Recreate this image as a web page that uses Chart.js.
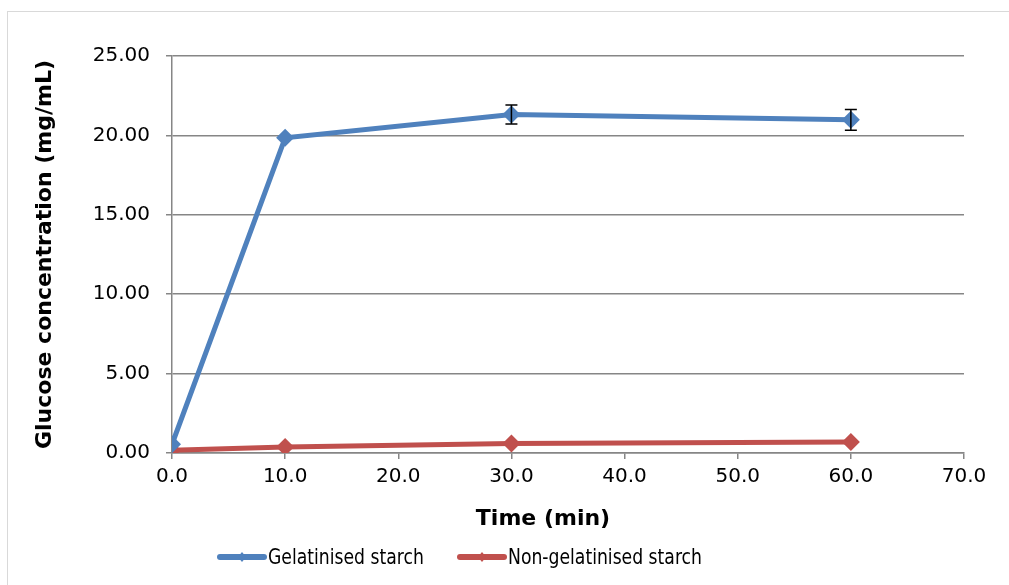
<!DOCTYPE html>
<html>
<head>
<meta charset="utf-8">
<script src="https://cdn.jsdelivr.net/npm/chart.js@4/dist/chart.umd.min.js"></script>
<style>
  html, body { margin: 0; padding: 0; background: #ffffff; }
  #wrap { position: relative; width: 1009px; height: 585px; }
</style>
</head>
<body>
<div id="wrap"><canvas id="c" width="1009" height="585"></canvas></div>
<script>
// Hydrolysis time points (min)
const timePoints = [0, 10, 30, 60];
// Glucose concentration (mg/mL)
const gelatinised = [0.55, 19.85, 21.32, 20.98];
const gelatinisedErr = [0, 0, 0.6, 0.65];
const nonGelatinised = [0.18, 0.38, 0.6, 0.7];
const seriesNames = ['Gelatinised starch', 'Non-gelatinised starch'];
const xTitle = 'Time (min)';
const yTitle = 'Glucose concentration (mg/mL)';

const BLUE = '#4F81BD';
const RED = '#C0504D';
const GRID = '#868686';
const FONT = 'DejaVu Sans, Verdana, sans-serif';

const toPoints = (ys) => ys.map((y, i) => ({ x: timePoints[i], y }));

// Error bars for datasets carrying an "errors" array
const errorBars = {
  id: 'errorBars',
  afterDatasetsDraw(chart) {
    const { ctx, scales: { x, y } } = chart;
    chart.data.datasets.forEach((ds) => {
      if (!ds.errors) return;
      ctx.save();
      ctx.strokeStyle = '#000000';
      ctx.lineWidth = 1.5;
      ds.data.forEach((p, i) => {
        const e = ds.errors[i];
        if (!e) return;
        const px = x.getPixelForValue(p.x);
        const top = y.getPixelForValue(p.y + e);
        const bot = y.getPixelForValue(p.y - e);
        ctx.beginPath();
        ctx.moveTo(px, top); ctx.lineTo(px, bot);
        ctx.moveTo(px - 6, top); ctx.lineTo(px + 6, top);
        ctx.moveTo(px - 6, bot); ctx.lineTo(px + 6, bot);
        ctx.stroke();
      });
      ctx.restore();
    });
  }
};

// Outer frame, x-axis title and a line-with-marker legend below the axes
const frameAndLegend = {
  id: 'frameAndLegend',
  beforeDraw(chart) {
    const { ctx } = chart;
    ctx.save();
    ctx.strokeStyle = '#d9d9d9';
    ctx.lineWidth = 1;
    ctx.strokeRect(7.5, 11.5, 1010, 600);
    ctx.restore();
  },
  afterDraw(chart) {
    const { ctx } = chart;
    ctx.save();
    ctx.fillStyle = '#000000';
    ctx.font = 'bold 22px ' + FONT;
    ctx.textAlign = 'center';
    ctx.textBaseline = 'middle';
    ctx.fillText(xTitle, 543, 519);
    ctx.restore();

    const items = [
      { x0: 220, x1: 264, tx: 268 },
      { x0: 460, x1: 504, tx: 508 }
    ];
    const yMid = 557;
    ctx.save();
    chart.data.datasets.forEach((ds, i) => {
      const it = items[i];
      ctx.strokeStyle = ds.borderColor;
      ctx.fillStyle = ds.borderColor;
      ctx.lineWidth = 6;
      ctx.lineCap = 'round';
      ctx.beginPath();
      ctx.moveTo(it.x0, yMid); ctx.lineTo(it.x1, yMid);
      ctx.stroke();
      const cx = (it.x0 + it.x1) / 2;
      ctx.beginPath();
      ctx.moveTo(cx, yMid - 5); ctx.lineTo(cx + 4, yMid);
      ctx.lineTo(cx, yMid + 5); ctx.lineTo(cx - 4, yMid);
      ctx.closePath();
      ctx.fill();
      ctx.save();
      ctx.fillStyle = '#000000';
      ctx.font = '22px "DejaVu Sans Condensed", "DejaVu Sans", sans-serif';
      ctx.textAlign = 'left';
      ctx.textBaseline = 'middle';
      ctx.translate(it.tx, yMid + 1);
      ctx.scale(0.87, 1);
      ctx.fillText(ds.label, 0, 0);
      ctx.restore();
    });
    ctx.restore();
  }
};

new Chart(document.getElementById('c'), {
  type: 'line',
  data: {
    datasets: [
      {
        label: seriesNames[0],
        data: toPoints(gelatinised),
        errors: gelatinisedErr,
        borderColor: BLUE,
        backgroundColor: BLUE,
        borderWidth: 5,
        pointStyle: 'rectRot',
        pointRadius: 9,
        pointHoverRadius: 9,
        pointBorderWidth: 0,
        tension: 0
      },
      {
        label: seriesNames[1],
        data: toPoints(nonGelatinised),
        borderColor: RED,
        backgroundColor: RED,
        borderWidth: 5,
        pointStyle: 'rectRot',
        pointRadius: 9,
        pointHoverRadius: 9,
        pointBorderWidth: 0,
        tension: 0
      }
    ]
  },
  options: {
    responsive: false,
    animation: false,
    events: [],
    layout: { padding: { left: 0, right: 45, top: 56, bottom: 0 } },
    plugins: {
      legend: { display: false },
      tooltip: { enabled: false }
    },
    scales: {
      x: {
        type: 'linear',
        min: 0,
        max: 70,
        ticks: {
          stepSize: 10,
          color: '#000000',
          font: { family: FONT, size: 20 },
          padding: 6,
          maxRotation: 0,
          callback: (v) => Number(v).toFixed(1)
        },
        grid: { drawOnChartArea: false, drawTicks: true, tickLength: 6, color: GRID, lineWidth: 1.5 },
        border: { display: true, color: GRID, width: 1.5 },
        title: { display: false },
        afterFit: (s) => { s.height = 132; }
      },
      y: {
        min: 0,
        max: 25,
        ticks: {
          stepSize: 5,
          color: '#000000',
          font: { family: FONT, size: 20 },
          padding: 16,
          callback: (v) => Number(v).toFixed(2)
        },
        grid: { color: GRID, lineWidth: 1.5, tickLength: 6, drawTicks: true },
        border: { display: true, color: GRID, width: 1.5 },
        title: {
          display: true,
          text: yTitle,
          color: '#000000',
          font: { family: FONT, size: 22, weight: 'bold' },
          padding: { top: 32, bottom: 0 }
        },
        afterFit: (s) => { s.width = 172; }
      }
    }
  },
  plugins: [errorBars, frameAndLegend]
});
</script>
</body>
</html>
